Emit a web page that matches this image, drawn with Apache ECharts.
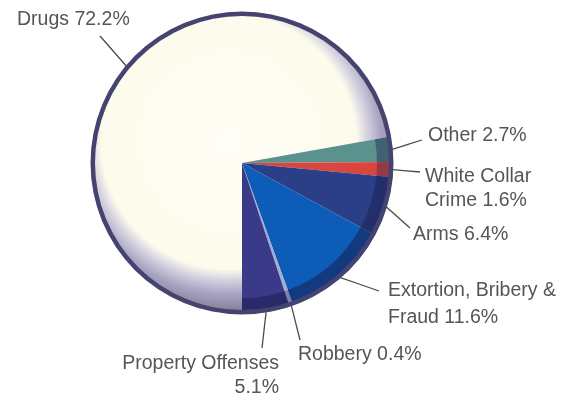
<!DOCTYPE html>
<html><head><meta charset="utf-8">
<script src="https://cdn.jsdelivr.net/npm/echarts@6/dist/echarts.min.js"></script>
<style>html,body{margin:0;padding:0;background:#fff}#c{width:573px;height:400px}</style>
</head><body><div id="c"></div>
<script>
// ---- data ----
const categories = ['Drugs', 'Other', 'White Collar\nCrime', 'Arms', 'Extortion, Bribery &\nFraud', 'Robbery', 'Property Offenses\n'];
const shares = [72.2, 2.7, 1.6, 6.4, 11.6, 0.4, 5.1];

// ---- styles / layout ----
const drugsFill = {
  type: 'radial', x: 0.46, y: 0.43, r: 0.56,
  colorStops: [
    {offset: 0, color: '#fefef6'},
    {offset: 0.76, color: '#fcfbec'},
    {offset: 0.83, color: '#d2cfdf'},
    {offset: 0.91, color: '#a7a3c0'},
    {offset: 1, color: '#87839f'}
  ]
};
const palette = [drugsFill, '#5b928d', '#d8463f', '#2b3f86', '#0c5cb8', '#a3acd2', '#3a3a88'];
const rimShade = ['rgba(0,0,0,0)', 'rgba(30,35,85,0.45)', 'rgba(30,35,85,0.35)', 'rgba(25,28,75,0.45)', 'rgba(25,30,80,0.55)', 'rgba(30,35,85,0.3)', 'rgba(25,25,70,0.45)'];
const labelSpots = [
  {x: 17, y: 20, align: 'left', end: [100, 36]},
  {x: 428, y: 136, align: 'left', end: [422, 140]},
  {x: 425, y: 189, align: 'left', end: [420, 172]},
  {x: 413, y: 235, align: 'left', end: [410, 228]},
  {x: 388, y: 304, align: 'left', end: [379, 291]},
  {x: 298, y: 355, align: 'left', end: [300, 340]},
  {x: 279, y: 376, align: 'right', end: [262, 348]}
];
const CENTER = [242, 163];

const chart = echarts.init(document.getElementById('c'), null, {renderer: 'canvas'});
chart.setOption({
  animation: false,
  backgroundColor: '#ffffff',
  series: [
    {
      type: 'pie',
      center: CENTER,
      radius: 151,
      startAngle: 270,
      clockwise: true,
      avoidLabelOverlap: false,
      silent: true,
      emphasis: {disabled: true},
      itemStyle: {borderWidth: 0},
      label: {
        show: true,
        color: '#555555',
        fontFamily: 'Liberation Sans, Arial, sans-serif',
        fontSize: 19.5,
        lineHeight: 24,
        formatter: p => p.name + (p.name.endsWith('\n') ? '' : ' ') + p.value.toFixed(1) + '%'
      },
      labelLine: {show: true, lineStyle: {color: '#4a4a4a', width: 1.3}},
      labelLayout: function (p) {
        const s = labelSpots[p.dataIndex];
        const a = (p.labelLinePoints && p.labelLinePoints[0]) ? p.labelLinePoints[0] : s.end;
        return {
          x: s.x, y: s.y, align: s.align, verticalAlign: 'middle',
          labelLinePoints: [[a[0], a[1]], [(a[0] + s.end[0]) / 2, (a[1] + s.end[1]) / 2], s.end]
        };
      },
      data: categories.map((c, i) => ({
        name: c, value: shares[i],
        itemStyle: {color: palette[i]},
        label: i === 4 ? {lineHeight: 27} : undefined
      }))
    },
    {
      type: 'pie',
      center: CENTER,
      radius: [135, 148],
      startAngle: 270,
      clockwise: true,
      silent: true,
      emphasis: {disabled: true},
      label: {show: false}, labelLine: {show: false},
      itemStyle: {borderWidth: 0},
      data: shares.map((v, i) => ({value: v, itemStyle: {color: rimShade[i]}}))
    },
    {
      type: 'pie',
      center: CENTER,
      radius: [147, 151.5],
      silent: true,
      emphasis: {disabled: true},
      label: {show: false}, labelLine: {show: false},
      itemStyle: {borderWidth: 0, color: '#45436f'},
      data: [{value: 1}]
    }
  ]
});
</script>
</body></html>
